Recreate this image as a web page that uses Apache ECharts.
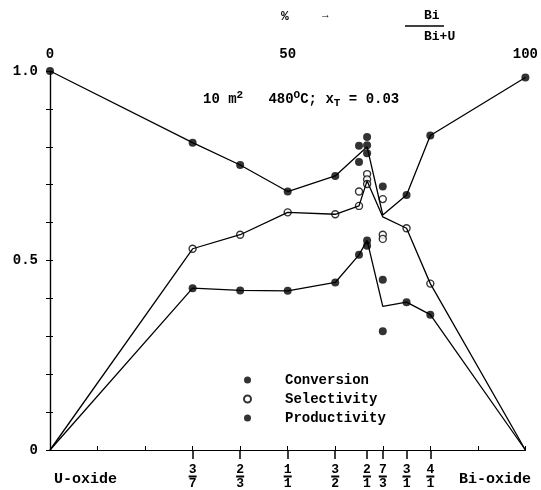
<!DOCTYPE html>
<html><head><meta charset="utf-8">
<script src="https://cdn.jsdelivr.net/npm/echarts@6/dist/echarts.min.js"></script>
<style>html,body{margin:0;padding:0;background:#fff}#c{width:541px;height:490px}</style>
</head><body><div id="c"></div>
<script>
// Bi/(Bi+U) in %
const fracPos = [30, 40, 50, 60, 66.667, 70, 75, 80];
const fracNum = ['3', '2', '1', '3', '2', '7', '3', '4'];
const fracDen = ['7', '3', '1', '2', '1', '3', '1', '1'];
const topTicks = [0, 50, 100];

const convPts = [[0,1.0],[30,0.811],[40,0.752],[50,0.682],[60,0.723],[65,0.803],[65,0.76],[66.7,0.826],[66.7,0.804],[66.7,0.783],[70,0.695],[75,0.673],[80,0.83],[100,0.983]];
const selPts = [[30,0.531],[40,0.568],[50,0.627],[60,0.622],[65,0.682],[65,0.644],[66.7,0.728],[66.7,0.714],[66.7,0.702],[70,0.662],[70,0.568],[70,0.557],[75,0.585],[80,0.439]];
const prodPts = [[30,0.427],[40,0.421],[50,0.42],[60,0.442],[65,0.515],[66.7,0.553],[66.7,0.539],[70,0.449],[70,0.313],[75,0.39],[80,0.357]];

const convLine = [[0,1.0],[30,0.811],[40,0.752],[50,0.682],[60,0.723],[66.7,0.80],[70,0.62],[75,0.673],[80,0.83],[100,0.983]];
const selLine = [[0,0],[30,0.531],[40,0.568],[50,0.627],[60,0.622],[65,0.644],[66.7,0.71],[70,0.615],[75,0.585],[80,0.439],[100,0]];
const prodLine = [[0,0],[30,0.427],[40,0.421],[50,0.42],[60,0.442],[65,0.515],[66.7,0.553],[70,0.379],[75,0.39],[80,0.357],[100,0]];

const FONT = '"Liberation Mono", "DejaVu Sans Mono", monospace';
const chart = echarts.init(document.getElementById('c'));
const lineStyle = {color: '#000', width: 1.3};
chart.setOption({
  animation: false,
  backgroundColor: '#fff',
  textStyle: {fontFamily: FONT, color: '#000'},
  grid: {left: 50, right: 12, top: 71, bottom: 39},
  legend: {
    orient: 'vertical', left: 238, top: 368, itemWidth: 7, itemHeight: 7, itemGap: 5,
    data: ['Conversion', 'Selectivity', 'Productivity'],
    textStyle: {fontFamily: FONT, fontSize: 14, color: '#000', fontWeight: 'bold', padding: [0, 0, 0, 29]}
  },
  xAxis: [
    {type: 'value', position: 'bottom', min: 0, max: 100,
     axisLine: {lineStyle: {color: '#333', width: 1}},
     splitLine: {show: false},
     axisTick: {customValues: fracPos, length: 9, inside: false, lineStyle: {color: '#000', width: 1.5}},
     axisLabel: {customValues: fracPos, margin: 14,
       formatter: function (v) {
         let i = fracPos.findIndex(p => Math.abs(p - v) < 0.01);
         if (i < 0) return '';
         return '{n|' + fracNum[i] + '}\n{b| }\n{d|' + fracDen[i] + '}';
       },
       rich: {
         n: {fontFamily: FONT, fontSize: 13, fontWeight: 'bold', lineHeight: 11, align: 'center'},
         b: {width: 8, height: 2, lineHeight: 3, fontSize: 2, backgroundColor: '#000', align: 'center'},
         d: {fontFamily: FONT, fontSize: 13, fontWeight: 'bold', lineHeight: 11, align: 'center'}
       }}},
    {type: 'value', position: 'top', min: 0, max: 100, interval: 10,
     axisLine: {lineStyle: {color: '#000', width: 1}},
     splitLine: {show: false},
     axisTick: {length: 4, lineStyle: {color: '#000'}},
     axisLabel: {customValues: topTicks, margin: 10, fontFamily: FONT, fontSize: 14, fontWeight: 'bold', color: '#000'}}
  ],
  yAxis: [
    {type: 'value', position: 'left', min: 0, max: 1, interval: 0.1,
     axisLine: {show: true, lineStyle: {color: '#000', width: 1.2}},
     splitLine: {show: false},
     axisTick: {length: 4, lineStyle: {color: '#000'}},
     axisLabel: {customValues: [0, 0.5, 1], margin: 12, fontFamily: FONT, fontSize: 14, fontWeight: 'bold', color: '#000',
       formatter: v => v === 0 ? '0' : v.toFixed(1)}},
    {type: 'value', position: 'right', min: 0, max: 1, interval: 0.1,
     axisLine: {show: true, lineStyle: {color: '#000', width: 1.2}},
     splitLine: {show: false},
     axisTick: {length: 3, lineStyle: {color: '#000'}},
     axisLabel: {show: false}}
  ],
  series: [
    {name: 'convLine', type: 'line', data: convLine, symbol: 'none', lineStyle: lineStyle, silent: true},
    {name: 'selLine', type: 'line', data: selLine, symbol: 'none', lineStyle: lineStyle, silent: true},
    {name: 'prodLine', type: 'line', data: prodLine, symbol: 'none', lineStyle: lineStyle, silent: true},
    {name: 'Conversion', type: 'scatter', data: convPts, symbol: 'circle', symbolSize: 8, itemStyle: {color: '#000'}},
    {name: 'Selectivity', type: 'scatter', data: selPts, symbol: 'circle', symbolSize: 7, itemStyle: {color: '#fff', borderColor: '#000', borderWidth: 1.4}},
    {name: 'Productivity', type: 'scatter', data: prodPts, symbol: 'circle', symbolSize: 8, itemStyle: {color: '#000'}}
  ],
  graphic: [
    {type: 'text', left: 203, top: 90, style: {
      text: '10 m{sup|2}   480{sup|O}C; x{sub|T} = 0.03',
      font: 'bold 14px ' + FONT, fill: '#000',
      rich: {sup: {fontSize: 11, fontFamily: FONT, fontWeight: 'bold', verticalAlign: 'top', padding: [0, 0, 8, 0]},
             sub: {fontSize: 11, fontFamily: FONT, fontWeight: 'bold', verticalAlign: 'bottom', padding: [6, 0, 0, 0]}}}},
    {type: 'text', left: 281, top: 10, style: {text: '%', font: 'bold 13px ' + FONT, fill: '#000'}},
    {type: 'text', left: 322, top: 10, style: {text: '→', font: 'bold 11px ' + FONT, fill: '#000'}},
    {type: 'text', x: 424, top: 9, style: {text: 'Bi', font: 'bold 13px ' + FONT, fill: '#000', align: 'center'}},
    {type: 'line', shape: {x1: 405, y1: 26, x2: 444, y2: 26}, style: {stroke: '#000', lineWidth: 1.5}},
    {type: 'text', x: 424, top: 30, style: {text: 'Bi+U', font: 'bold 13px ' + FONT, fill: '#000', align: 'center'}},
    {type: 'text', left: 54, top: 472, style: {text: 'U-oxide', font: 'bold 15px ' + FONT, fill: '#000'}},
    {type: 'text', right: 10, top: 472, style: {text: 'Bi-oxide', font: 'bold 15px ' + FONT, fill: '#000'}}
  ]
});
</script></body></html>
